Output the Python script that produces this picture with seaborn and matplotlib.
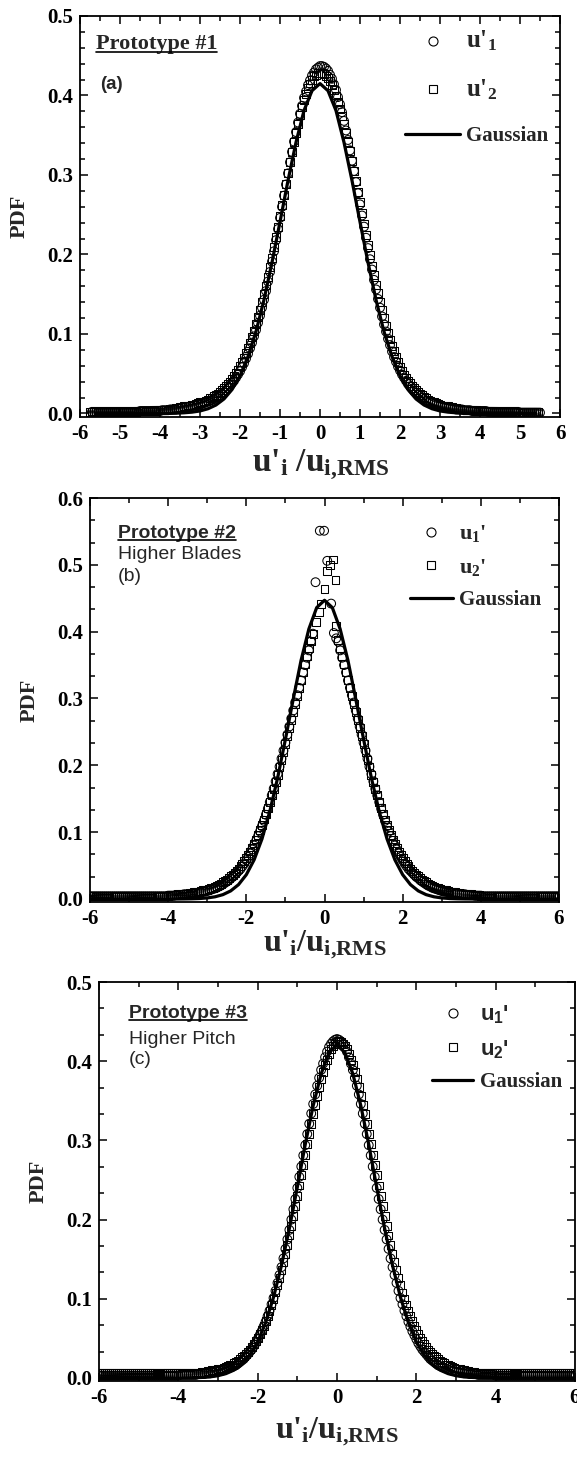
import numpy as np
import matplotlib
matplotlib.use("Agg")
import matplotlib.pyplot as plt
import seaborn as sns
from matplotlib.lines import Line2D
from matplotlib.ticker import MultipleLocator, FormatStrFormatter

# ---------------- data: panel (a) Prototype #1 ----------------
a_x1 = np.round(np.arange(-5.70, 5.525, 0.05), 2)   # u'1 sample positions
a_x2 = np.round(np.arange(-5.75, 5.475, 0.05), 2)   # u'2 sample positions
a_u1 = [0.002, 0.002, 0.002, 0.002, 0.002, 0.002, 0.002, 0.002, 0.002, 0.002,
        0.002, 0.002, 0.002, 0.002, 0.002, 0.002, 0.002, 0.002, 0.002, 0.002,
        0.002, 0.002, 0.002, 0.002, 0.003, 0.003, 0.003, 0.003, 0.003, 0.003,
        0.003, 0.003, 0.003, 0.003, 0.003, 0.004, 0.004, 0.004, 0.004, 0.005,
        0.005, 0.005, 0.005, 0.006, 0.006, 0.007, 0.007, 0.008, 0.008, 0.009,
        0.009, 0.010, 0.010, 0.011, 0.011, 0.012, 0.013, 0.014, 0.015, 0.016,
        0.017, 0.018, 0.020, 0.021, 0.023, 0.025, 0.027, 0.029, 0.032, 0.035,
        0.038, 0.041, 0.045, 0.049, 0.053, 0.058, 0.063, 0.069, 0.075, 0.082,
        0.089, 0.097, 0.105, 0.114, 0.123, 0.133, 0.143, 0.154, 0.166, 0.178,
        0.191, 0.204, 0.218, 0.232, 0.246, 0.260, 0.274, 0.288, 0.302, 0.316,
        0.329, 0.342, 0.354, 0.366, 0.377, 0.387, 0.397, 0.405, 0.413, 0.419,
        0.425, 0.429, 0.433, 0.435, 0.437, 0.437, 0.436, 0.434, 0.431, 0.426,
        0.421, 0.414, 0.407, 0.398, 0.389, 0.379, 0.368, 0.356, 0.344, 0.331,
        0.318, 0.305, 0.291, 0.277, 0.263, 0.249, 0.235, 0.221, 0.208, 0.194,
        0.181, 0.168, 0.156, 0.144, 0.133, 0.122, 0.112, 0.103, 0.094, 0.086,
        0.078, 0.071, 0.065, 0.059, 0.054, 0.049, 0.045, 0.041, 0.037, 0.034,
        0.031, 0.028, 0.026, 0.024, 0.022, 0.020, 0.018, 0.016, 0.015, 0.014,
        0.013, 0.012, 0.011, 0.010, 0.009, 0.009, 0.008, 0.008, 0.007, 0.007,
        0.006, 0.006, 0.005, 0.005, 0.005, 0.005, 0.004, 0.004, 0.004, 0.004,
        0.003, 0.003, 0.003, 0.003, 0.003, 0.003, 0.003, 0.003, 0.002, 0.002,
        0.002, 0.002, 0.002, 0.002, 0.002, 0.002, 0.002, 0.002, 0.002, 0.002,
        0.002, 0.002, 0.002, 0.002, 0.001, 0.001, 0.001, 0.001, 0.001, 0.001,
        0.001, 0.001, 0.001, 0.001, 0.001]
a_u2 = [0.002, 0.002, 0.002, 0.002, 0.002, 0.002, 0.002, 0.002, 0.002, 0.002,
        0.002, 0.002, 0.002, 0.002, 0.002, 0.002, 0.002, 0.002, 0.002, 0.002,
        0.002, 0.002, 0.002, 0.002, 0.003, 0.003, 0.003, 0.003, 0.003, 0.003,
        0.003, 0.003, 0.004, 0.004, 0.004, 0.004, 0.004, 0.005, 0.005, 0.005,
        0.006, 0.006, 0.006, 0.007, 0.007, 0.008, 0.008, 0.009, 0.009, 0.010,
        0.010, 0.011, 0.011, 0.012, 0.013, 0.014, 0.014, 0.015, 0.016, 0.017,
        0.019, 0.020, 0.022, 0.023, 0.025, 0.027, 0.029, 0.032, 0.034, 0.037,
        0.040, 0.043, 0.047, 0.051, 0.055, 0.060, 0.065, 0.070, 0.076, 0.082,
        0.089, 0.096, 0.104, 0.112, 0.121, 0.130, 0.140, 0.150, 0.161, 0.172,
        0.184, 0.196, 0.209, 0.222, 0.235, 0.248, 0.262, 0.275, 0.289, 0.302,
        0.316, 0.329, 0.341, 0.353, 0.364, 0.375, 0.385, 0.394, 0.402, 0.409,
        0.415, 0.420, 0.424, 0.426, 0.428, 0.428, 0.428, 0.427, 0.425, 0.422,
        0.418, 0.413, 0.407, 0.400, 0.392, 0.383, 0.374, 0.364, 0.353, 0.342,
        0.330, 0.318, 0.305, 0.292, 0.279, 0.266, 0.252, 0.239, 0.225, 0.212,
        0.199, 0.186, 0.174, 0.162, 0.151, 0.140, 0.130, 0.120, 0.110, 0.101,
        0.093, 0.085, 0.078, 0.071, 0.065, 0.059, 0.054, 0.049, 0.045, 0.041,
        0.038, 0.035, 0.032, 0.029, 0.027, 0.025, 0.023, 0.021, 0.019, 0.017,
        0.016, 0.015, 0.014, 0.013, 0.012, 0.011, 0.010, 0.010, 0.009, 0.009,
        0.008, 0.008, 0.007, 0.007, 0.006, 0.006, 0.005, 0.005, 0.005, 0.005,
        0.004, 0.004, 0.004, 0.004, 0.003, 0.003, 0.003, 0.003, 0.003, 0.003,
        0.003, 0.003, 0.003, 0.002, 0.002, 0.002, 0.002, 0.002, 0.002, 0.002,
        0.002, 0.002, 0.002, 0.002, 0.002, 0.002, 0.002, 0.002, 0.002, 0.002,
        0.002, 0.002, 0.002, 0.002, 0.002]
a_gx = np.round(np.arange(-5.6, 5.45, 0.2), 1)
a_gauss = [0, 0, 0, 0, 0, 0, 0, 0, 0, 0,
           0.0003, 0.0008, 0.0016, 0.0031, 0.0059, 0.0106, 0.0182, 0.0300, 0.0473, 0.0716,
           0.103, 0.143, 0.190, 0.241, 0.293, 0.341, 0.381, 0.406, 0.415,
           0.406, 0.381, 0.341, 0.293, 0.241, 0.190, 0.143, 0.103, 0.0716,
           0.0473, 0.0300, 0.0182, 0.0106, 0.0059, 0.0031, 0.0016, 0.0008, 0.0003,
           0, 0, 0, 0, 0, 0, 0, 0, 0]

# ---------------- data: panel (b) Prototype #2 ----------------
b_x_left = np.round(np.arange(-6.00, -0.325, 0.05), 2)
b_x_right = np.round(np.arange(0.30, 6.025, 0.05), 2)
b_u1_left = [0.004, 0.004, 0.004, 0.004, 0.004, 0.004, 0.004, 0.004, 0.004, 0.004,
             0.004, 0.004, 0.004, 0.004, 0.004, 0.004, 0.004, 0.004, 0.004, 0.004,
             0.004, 0.004, 0.004, 0.004, 0.004, 0.004, 0.004, 0.004, 0.004, 0.004,
             0.004, 0.004, 0.004, 0.004, 0.004, 0.004, 0.004, 0.004, 0.004, 0.004,
             0.005, 0.005, 0.005, 0.005, 0.006, 0.006, 0.006, 0.006, 0.007, 0.007,
             0.007, 0.007, 0.008, 0.008, 0.009, 0.009, 0.010, 0.010, 0.011, 0.011,
             0.012, 0.013, 0.014, 0.015, 0.016, 0.017, 0.019, 0.020, 0.022, 0.024,
             0.026, 0.028, 0.031, 0.033, 0.036, 0.039, 0.042, 0.045, 0.049, 0.053,
             0.058, 0.063, 0.068, 0.074, 0.080, 0.087, 0.094, 0.101, 0.109, 0.117,
             0.126, 0.135, 0.145, 0.155, 0.165, 0.176, 0.187, 0.198, 0.210, 0.222,
             0.234, 0.246, 0.258, 0.270, 0.282, 0.294, 0.305, 0.316, 0.327, 0.339,
             0.350, 0.361, 0.372, 0.385]
b_u1_mid_x = [-0.30, -0.23, -0.12, -0.01, 0.07, 0.17, 0.24]
b_u1_mid = [0.397, 0.474, 0.551, 0.551, 0.506, 0.442, 0.398]
b_u1_right = [0.390, 0.385, 0.372, 0.361, 0.350, 0.339, 0.327, 0.316, 0.305, 0.294,
              0.282, 0.270, 0.258, 0.246, 0.234, 0.222, 0.210, 0.198, 0.187, 0.176,
              0.165, 0.155, 0.145, 0.135, 0.126, 0.117, 0.109, 0.101, 0.094, 0.087,
              0.080, 0.074, 0.068, 0.063, 0.058, 0.053, 0.049, 0.045, 0.042, 0.039,
              0.036, 0.033, 0.031, 0.028, 0.026, 0.024, 0.022, 0.020, 0.019, 0.017,
              0.016, 0.015, 0.014, 0.013, 0.012, 0.011, 0.011, 0.010, 0.010, 0.009,
              0.009, 0.008, 0.008, 0.007, 0.007, 0.007, 0.007, 0.006, 0.006, 0.006,
              0.006, 0.005, 0.005, 0.005, 0.005, 0.004, 0.004, 0.004, 0.004, 0.004,
              0.004, 0.004, 0.004, 0.004, 0.004, 0.004, 0.004, 0.004, 0.004, 0.004,
              0.004, 0.004, 0.004, 0.004, 0.004, 0.004, 0.004, 0.004, 0.004, 0.004,
              0.004, 0.004, 0.004, 0.004, 0.004, 0.004, 0.004, 0.004, 0.004, 0.004,
              0.004, 0.004, 0.004, 0.004, 0.004]
b_u2_left = [0.004, 0.004, 0.004, 0.004, 0.004, 0.004, 0.004, 0.004, 0.004, 0.004,
             0.004, 0.004, 0.004, 0.004, 0.004, 0.004, 0.004, 0.004, 0.004, 0.004,
             0.004, 0.004, 0.004, 0.004, 0.004, 0.004, 0.004, 0.004, 0.004, 0.004,
             0.004, 0.004, 0.005, 0.005, 0.005, 0.005, 0.005, 0.005, 0.005, 0.005,
             0.005, 0.006, 0.006, 0.006, 0.006, 0.007, 0.007, 0.007, 0.008, 0.008,
             0.008, 0.009, 0.009, 0.010, 0.010, 0.011, 0.011, 0.012, 0.013, 0.013,
             0.014, 0.015, 0.016, 0.017, 0.018, 0.020, 0.021, 0.023, 0.025, 0.027,
             0.029, 0.031, 0.034, 0.036, 0.039, 0.042, 0.045, 0.049, 0.053, 0.057,
             0.061, 0.066, 0.071, 0.077, 0.083, 0.089, 0.096, 0.103, 0.111, 0.119,
             0.127, 0.136, 0.145, 0.155, 0.165, 0.175, 0.186, 0.197, 0.208, 0.220,
             0.232, 0.244, 0.256, 0.268, 0.280, 0.292, 0.304, 0.316, 0.328, 0.340,
             0.352, 0.364, 0.375, 0.386]
b_u2_mid_x = [-0.28, -0.22, -0.13, -0.10, 0.00, 0.07, 0.15, 0.21, 0.28]
b_u2_mid = [0.397, 0.414, 0.429, 0.442, 0.464, 0.491, 0.500, 0.508, 0.477]
b_u2_right = [0.409, 0.388, 0.376, 0.364, 0.352, 0.340, 0.328, 0.316, 0.304, 0.292,
              0.280, 0.268, 0.256, 0.244, 0.232, 0.220, 0.208, 0.197, 0.186, 0.175,
              0.165, 0.155, 0.145, 0.136, 0.127, 0.119, 0.111, 0.103, 0.096, 0.089,
              0.083, 0.077, 0.071, 0.066, 0.061, 0.057, 0.053, 0.049, 0.045, 0.042,
              0.039, 0.036, 0.034, 0.031, 0.029, 0.027, 0.025, 0.023, 0.021, 0.020,
              0.018, 0.017, 0.016, 0.015, 0.014, 0.013, 0.013, 0.012, 0.011, 0.011,
              0.010, 0.010, 0.009, 0.009, 0.008, 0.008, 0.008, 0.007, 0.007, 0.007,
              0.006, 0.006, 0.006, 0.006, 0.005, 0.005, 0.005, 0.005, 0.005, 0.005,
              0.005, 0.005, 0.004, 0.004, 0.004, 0.004, 0.004, 0.004, 0.004, 0.004,
              0.004, 0.004, 0.004, 0.004, 0.004, 0.004, 0.004, 0.004, 0.004, 0.004,
              0.004, 0.004, 0.004, 0.004, 0.004, 0.004, 0.004, 0.004, 0.004, 0.004,
              0.004, 0.004, 0.004, 0.004, 0.004]
b_gx = np.round(np.arange(-6.0, 6.05, 0.2), 1)
b_gauss = [0, 0, 0, 0, 0, 0, 0, 0, 0, 0, 0, 0,
           0.0001, 0.0003, 0.0007, 0.0016, 0.0033, 0.0065, 0.0121, 0.0215, 0.0364, 0.0587,
           0.0898, 0.131, 0.181, 0.239, 0.299, 0.357, 0.404, 0.436, 0.447,
           0.436, 0.404, 0.357, 0.299, 0.239, 0.181, 0.131, 0.0898,
           0.0587, 0.0364, 0.0215, 0.0121, 0.0065, 0.0033, 0.0016, 0.0007, 0.0003, 0.0001,
           0, 0, 0, 0, 0, 0, 0, 0, 0, 0, 0, 0]

# ---------------- data: panel (c) Prototype #3 ----------------
c_x1 = np.round(np.arange(-6.00, 6.025, 0.05), 2)   # u1' sample positions
c_x2 = np.round(np.arange(-6.05, 5.975, 0.05), 2)   # u2' sample positions
c_u1 = [0.003, 0.003, 0.003, 0.003, 0.003, 0.003, 0.003, 0.003, 0.003, 0.003,
        0.003, 0.003, 0.003, 0.003, 0.003, 0.003, 0.003, 0.003, 0.003, 0.003,
        0.003, 0.003, 0.003, 0.003, 0.003, 0.003, 0.003, 0.003, 0.003, 0.003,
        0.003, 0.003, 0.003, 0.003, 0.003, 0.003, 0.003, 0.003, 0.003, 0.003,
        0.003, 0.004, 0.004, 0.004, 0.004, 0.004, 0.004, 0.004, 0.004, 0.004,
        0.005, 0.005, 0.005, 0.005, 0.006, 0.006, 0.006, 0.007, 0.007, 0.008,
        0.008, 0.009, 0.009, 0.010, 0.011, 0.012, 0.013, 0.014, 0.015, 0.016,
        0.018, 0.020, 0.022, 0.024, 0.027, 0.030, 0.033, 0.036, 0.040, 0.044,
        0.049, 0.054, 0.059, 0.065, 0.071, 0.078, 0.085, 0.093, 0.101, 0.110,
        0.120, 0.130, 0.140, 0.151, 0.163, 0.175, 0.187, 0.200, 0.213, 0.226,
        0.240, 0.254, 0.267, 0.281, 0.294, 0.308, 0.321, 0.334, 0.346, 0.358,
        0.369, 0.379, 0.389, 0.397, 0.405, 0.412, 0.418, 0.422, 0.425, 0.427,
        0.428, 0.427, 0.425, 0.422, 0.418, 0.412, 0.405, 0.397, 0.389, 0.379,
        0.369, 0.358, 0.346, 0.334, 0.321, 0.308, 0.294, 0.281, 0.267, 0.254,
        0.240, 0.226, 0.213, 0.200, 0.187, 0.175, 0.163, 0.151, 0.140, 0.130,
        0.120, 0.110, 0.101, 0.093, 0.085, 0.078, 0.071, 0.065, 0.059, 0.054,
        0.049, 0.044, 0.040, 0.036, 0.033, 0.030, 0.027, 0.024, 0.022, 0.020,
        0.018, 0.016, 0.015, 0.014, 0.013, 0.012, 0.011, 0.010, 0.009, 0.009,
        0.008, 0.008, 0.007, 0.007, 0.006, 0.006, 0.006, 0.005, 0.005, 0.005,
        0.005, 0.004, 0.004, 0.004, 0.004, 0.004, 0.004, 0.004, 0.004, 0.004,
        0.003, 0.003, 0.003, 0.003, 0.003, 0.003, 0.003, 0.003, 0.003, 0.003,
        0.003, 0.003, 0.003, 0.003, 0.003, 0.003, 0.003, 0.003, 0.003, 0.003,
        0.003, 0.003, 0.003, 0.003, 0.003, 0.003, 0.003, 0.003, 0.003, 0.003,
        0.003, 0.003, 0.003, 0.003, 0.003, 0.003, 0.003, 0.003, 0.003, 0.003,
        0.003]
c_u2 = [0.006, 0.006, 0.006, 0.006, 0.006, 0.006, 0.006, 0.006, 0.006, 0.006,
        0.006, 0.006, 0.006, 0.006, 0.006, 0.006, 0.006, 0.006, 0.006, 0.006,
        0.006, 0.006, 0.006, 0.006, 0.006, 0.006, 0.006, 0.006, 0.006, 0.006,
        0.006, 0.006, 0.006, 0.006, 0.006, 0.006, 0.006, 0.006, 0.006, 0.006,
        0.006, 0.006, 0.006, 0.006, 0.006, 0.006, 0.006, 0.006, 0.006, 0.006,
        0.007, 0.007, 0.007, 0.008, 0.008, 0.008, 0.009, 0.009, 0.010, 0.010,
        0.010, 0.011, 0.012, 0.012, 0.013, 0.014, 0.015, 0.016, 0.017, 0.019,
        0.020, 0.022, 0.024, 0.026, 0.028, 0.030, 0.033, 0.036, 0.039, 0.043,
        0.047, 0.051, 0.056, 0.061, 0.066, 0.072, 0.078, 0.085, 0.092, 0.100,
        0.108, 0.117, 0.126, 0.136, 0.146, 0.157, 0.168, 0.180, 0.192, 0.204,
        0.217, 0.230, 0.243, 0.256, 0.269, 0.282, 0.295, 0.308, 0.321, 0.333,
        0.345, 0.356, 0.367, 0.377, 0.386, 0.395, 0.402, 0.409, 0.415, 0.419,
        0.422, 0.424, 0.425, 0.424, 0.422, 0.419, 0.415, 0.409, 0.402, 0.395,
        0.386, 0.377, 0.367, 0.356, 0.345, 0.333, 0.321, 0.308, 0.295, 0.282,
        0.269, 0.256, 0.243, 0.230, 0.217, 0.204, 0.192, 0.180, 0.168, 0.157,
        0.146, 0.136, 0.126, 0.117, 0.108, 0.100, 0.092, 0.085, 0.078, 0.072,
        0.066, 0.061, 0.056, 0.051, 0.047, 0.043, 0.039, 0.036, 0.033, 0.030,
        0.028, 0.026, 0.024, 0.022, 0.020, 0.019, 0.017, 0.016, 0.015, 0.014,
        0.013, 0.012, 0.012, 0.011, 0.010, 0.010, 0.009, 0.009, 0.008, 0.008,
        0.008, 0.007, 0.007, 0.007, 0.007, 0.006, 0.006, 0.006, 0.006, 0.006,
        0.006, 0.006, 0.006, 0.006, 0.006, 0.006, 0.006, 0.006, 0.006, 0.006,
        0.006, 0.006, 0.006, 0.006, 0.006, 0.006, 0.006, 0.006, 0.006, 0.006,
        0.006, 0.006, 0.006, 0.006, 0.006, 0.006, 0.006, 0.006, 0.006, 0.006,
        0.006, 0.006, 0.006, 0.006, 0.006, 0.006, 0.006, 0.006, 0.006, 0.006,
        0.006]
c_gx = np.round(np.arange(-6.0, 6.05, 0.2), 1)
c_gauss = [0, 0, 0, 0, 0, 0, 0, 0, 0, 0, 0, 0.0001,
           0.0003, 0.0007, 0.0014, 0.0029, 0.0055, 0.0099, 0.0173, 0.0288, 0.0458, 0.0698,
           0.102, 0.142, 0.189, 0.241, 0.295, 0.344, 0.384, 0.411, 0.420,
           0.411, 0.384, 0.344, 0.295, 0.241, 0.189, 0.142, 0.102,
           0.0698, 0.0458, 0.0288, 0.0173, 0.0099, 0.0055, 0.0029, 0.0014, 0.0007, 0.0003,
           0.0001, 0, 0, 0, 0, 0, 0, 0, 0, 0, 0, 0]

# ---------------- style ----------------
sns.set_style("ticks")
SERIF = ["Liberation Serif", "DejaVu Serif"]
SANS = ["Liberation Sans", "DejaVu Sans"]
plt.rcParams.update({
    "font.family": SERIF,
    "font.weight": "bold",
    "mathtext.fontset": "custom",
    "mathtext.rm": "Liberation Serif:bold",
    "mathtext.it": "Liberation Serif:bold",
    "mathtext.bf": "Liberation Serif:bold",
    "mathtext.sf": "Liberation Sans:bold",
    "axes.linewidth": 1.3,
    "axes.edgecolor": "black",
    "xtick.color": "black",
    "ytick.color": "black",
})

fig = plt.figure(figsize=(5.77, 14.58), dpi=100)
W, H = 577.0, 1458.0


def make_axes(left, right, top, bottom):
    return fig.add_axes([left / W, 1 - bottom / H, (right - left) / W, (bottom - top) / H])


ax_a = make_axes(80, 560, 16, 417)
ax_b = make_axes(90, 559, 498, 902)
ax_c = make_axes(99, 575, 982, 1381)

MK = dict(color="black", facecolor="none", edgecolor="black", linewidth=0.75, zorder=2, legend=False)


def draw(ax, xs1, ys1, xs2, ys2, gx, gy):
    sns.scatterplot(x=xs1, y=ys1, ax=ax, marker="o", s=40, **MK)
    sns.scatterplot(x=xs2, y=ys2, ax=ax, marker="s", s=32, **MK)
    sns.lineplot(x=gx, y=gy, ax=ax, color="black", linewidth=2.3, zorder=3, estimator=None, sort=False)


draw(ax_a, a_x1, a_u1, a_x2, a_u2, a_gx, a_gauss)
draw(ax_b,
     np.concatenate([b_x_left, b_u1_mid_x, b_x_right]), b_u1_left + b_u1_mid + b_u1_right,
     np.concatenate([b_x_left, b_u2_mid_x, b_x_right]), b_u2_left + b_u2_mid + b_u2_right,
     b_gx, b_gauss)
draw(ax_c, c_x1, c_u1, c_x2, c_u2, c_gx, c_gauss)


def style_axes(ax, ylim, xmaj, xmin, ymaj, ymin):
    ax.set_xlim(-6, 6)
    ax.set_ylim(*ylim)
    ax.xaxis.set_major_locator(MultipleLocator(xmaj))
    ax.xaxis.set_minor_locator(MultipleLocator(xmin))
    ax.yaxis.set_major_locator(MultipleLocator(ymaj))
    ax.yaxis.set_minor_locator(MultipleLocator(ymin))
    ax.yaxis.set_major_formatter(FormatStrFormatter("%.1f"))
    ax.xaxis.set_major_formatter(FormatStrFormatter("%d"))
    ax.tick_params(which="both", direction="in", top=True, right=True, width=1.1, labelsize=15, pad=5)
    ax.tick_params(which="major", length=6)
    ax.tick_params(which="minor", length=3.5)
    for sp in ax.spines.values():
        sp.set_visible(True)
        sp.set_linewidth(1.3)
    for lab in ax.get_xticklabels() + ax.get_yticklabels():
        lab.set_fontweight("bold")
        lab.set_family(SERIF)
    ax.set_ylabel("PDF", fontsize=16, fontweight="bold", family=SERIF)


style_axes(ax_a, (-0.0045, 0.5), 1, 0.5, 0.1, 0.02)
style_axes(ax_b, (-0.0045, 0.6), 2, 1, 0.1, 0.1 / 3)
style_axes(ax_c, (-0.0038, 0.5), 2, 1, 0.1, 0.1 / 3)

ax_a.set_xlabel(r"u'$_{\mathrm{i}}$ /u$_{\mathrm{i{,}RMS}}$", fontsize=24, fontweight="bold", family=SERIF)
ax_b.set_xlabel(r"u'$_{\mathrm{i}}$/u$_{\mathrm{i{,}RMS}}$", fontsize=23, fontweight="bold", family=SERIF)
ax_c.set_xlabel(r"u'$_{\mathrm{i}}$/u$_{\mathrm{i{,}RMS}}$", fontsize=23, fontweight="bold", family=SERIF)
ax_a.xaxis.set_label_coords(0.5, -0.075)
ax_b.xaxis.set_label_coords(0.5, -0.065)
ax_c.xaxis.set_label_coords(0.5, -0.085)
ax_a.yaxis.set_label_coords(-0.104, 0.5)
ax_b.yaxis.set_label_coords(-0.108, 0.5)
ax_c.yaxis.set_label_coords(-0.105, 0.5)


def add_legend(ax, labels, label_fonts, sizes, anchor, hl, spacing, pad):
    handles = [Line2D([], [], marker="o", ls="none", mfc="none", mec="black", ms=6.5, mew=0.8),
               Line2D([], [], marker="s", ls="none", mfc="none", mec="black", ms=6.0, mew=0.8),
               Line2D([], [], color="black", lw=2.3)]
    leg = ax.legend(handles, labels, loc="upper left", bbox_to_anchor=anchor, frameon=False,
                    handlelength=hl, handletextpad=pad, labelspacing=spacing, borderpad=0,
                    borderaxespad=0, prop={"family": SERIF, "weight": "bold", "size": 15})
    for t, f, s in zip(leg.get_texts(), label_fonts, sizes):
        t.set_family(f)
        t.set_fontsize(s)
        t.set_fontweight("bold")
    return leg


add_legend(ax_a, [r"u'$_{\mathbf{1}}$", r"u'$_{\mathbf{2}}$", "Gaussian"], [SERIF, SERIF, SERIF],
           [18, 18, 15], (0.677, 0.968), 2.65, 1.16, 0.3)
add_legend(ax_b, [r"u$_{\mathbf{1}}$'", r"u$_{\mathbf{2}}$'", "Gaussian"], [SERIF, SERIF, SERIF],
           [16, 16, 15], (0.682, 0.938), 2.05, 0.6, 0.3)
add_legend(ax_c, [r"u$_{\mathsf{1}}$'", r"u$_{\mathsf{2}}$'", "Gaussian"], [SANS, SANS, SERIF],
           [16, 16, 15], (0.70, 0.947), 1.95, 0.6, 0.33)

# ---------------- annotations ----------------
titles = []
titles.append(ax_a.text(0.033, 0.917, "Prototype #1", transform=ax_a.transAxes, family=SERIF,
                        fontsize=16, fontweight="bold", va="baseline"))
ax_a.text(0.042, 0.828, "(a)", transform=ax_a.transAxes, family=SANS, fontsize=13.5,
          fontweight="bold", va="center")
titles.append(ax_b.text(0.060, 0.902, "Prototype #2", transform=ax_b.transAxes, family=SANS,
                        fontsize=14, fontweight="bold", va="baseline"))
ax_b.text(0.060, 0.861, "Higher Blades", transform=ax_b.transAxes, family=SANS, fontsize=14,
          fontweight="normal", va="center")
ax_b.text(0.060, 0.805, "(b)", transform=ax_b.transAxes, family=SANS, fontsize=14,
          fontweight="normal", va="center")
titles.append(ax_c.text(0.063, 0.910, "Prototype #3", transform=ax_c.transAxes, family=SANS,
                        fontsize=14, fontweight="bold", va="baseline"))
ax_c.text(0.063, 0.857, "Higher Pitch", transform=ax_c.transAxes, family=SANS, fontsize=14,
          fontweight="normal", va="center")
ax_c.text(0.063, 0.805, "(c)", transform=ax_c.transAxes, family=SANS, fontsize=14,
          fontweight="normal", va="center")

fig.canvas.draw()
inv = fig.transFigure.inverted()
for t in titles:
    bb = t.get_window_extent()
    base = t.get_transform().transform(t.get_position())[1] - 2.5
    (x0, y0), (x1, y1) = inv.transform([[bb.x0, base], [bb.x1, base]])
    fig.add_artist(Line2D([x0, x1], [y0, y1], transform=fig.transFigure, color="black", lw=1.2))

fig.savefig("out.png", dpi=100)
